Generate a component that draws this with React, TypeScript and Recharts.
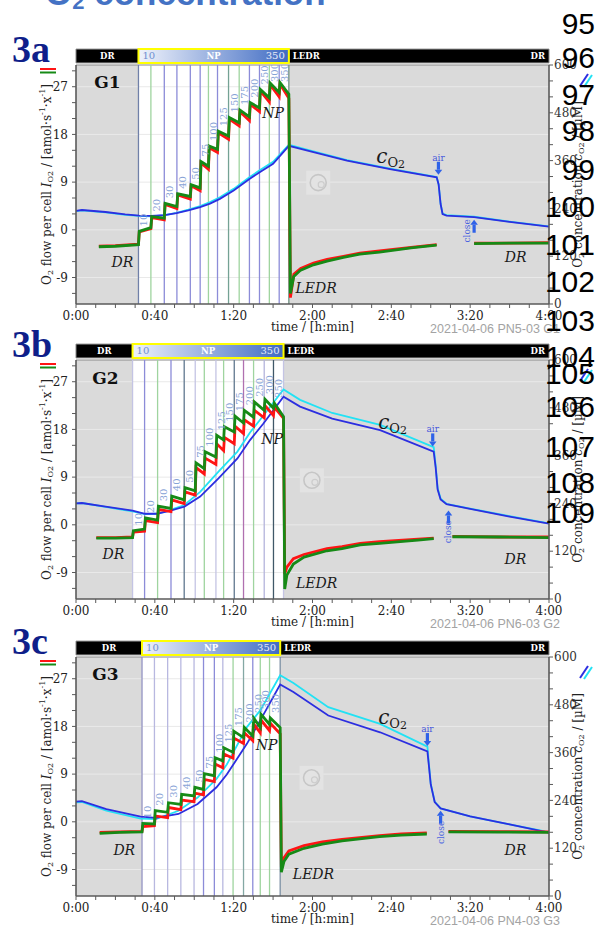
import React from 'react';
import { ComposedChart, Line, Scatter, XAxis, YAxis, ReferenceArea, ReferenceLine } from 'recharts';

// axes
const TIME_TICKS = [0, 10, 20, 30, 40, 50, 60, 70, 80, 90, 100, 110, 120, 130, 140, 150, 160, 170, 180, 190, 200, 210, 220, 230, 240];
const FLUX_TICKS = [-12, -9, -6, -3, 0, 3, 6, 9, 12, 15, 18, 21, 24, 27, 30];
const FLUX_GRID = [-9, 0, 9, 18, 27];
const CONC_TICKS = [0, 40, 80, 120, 160, 200, 240, 280, 320, 360, 400, 440, 480, 520, 560, 600];
const FLUX_MIN = -14;
const FLUX_MAX = 31.1;

const STEP_NAMES = ['10', '20', '30', '40', '50', '75', '100', '125', '150', '175', '200', '250', '300', '350'];
const STEP_NAMES_G3 = ['10', '20', '30', '40', '50', '75', '100', '125', '175', '200', '250', '300', '350'];

// ---------- G1 ----------
const PHASES_G1 = [0, 31.7, 108, 240];
const LINES_G1 = [31.7, 38.0, 44.8, 51.2, 58.0, 63.0, 67.2, 71.8, 77.4, 82.8, 88.0, 93.1, 98.1, 103.1, 108.0];
const LINE_COLORS_G1 = ['#7080a8', '#9fd49f', '#8c8cd8', '#8c8cd8', '#8c8cd8', '#8c8cd8', '#9fd49f', '#8c8cd8', '#74a294', '#9fd49f', '#8c8cd8', '#8c8cd8', '#9fd49f', '#8c8cd8', '#6f8f80'];
const FLUX_T_G1 = [11.6, 20, 31.7, 32.1, 38.0, 38.4, 44.8, 45.2, 51.2, 51.6, 58.0, 58.4, 63.0, 63.4, 67.2, 67.6, 71.8, 72.2, 77.4, 77.8, 82.8, 83.2, 88.0, 88.4, 93.1, 93.5, 98.1, 98.5, 103.1, 103.5, 108.0,
  108.8, 110.5, 114, 120.5, 127.4, 135.7, 144, 154, 170, 183, 183.5, 202, 220, 240];
const GREEN_G1 = [-3.2, -3.1, -2.8, -0.3, 0.4, 2.5, 2.2, 5.0, 4.4, 6.8, 6.3, 8.5, 7.9, 12.9, 12.0, 15.8, 15.2, 18.6, 17.7, 21.2, 20.2, 22.6, 21.3, 24.0, 23.0, 26.5, 24.9, 27.7, 25.9, 27.8, 25.6,
  -12.0, -8.8, -7.6, -6.6, -5.9, -5.2, -4.6, -4.2, -3.4, -2.9, null, -2.6, -2.5, -2.5];
const RED_G1 = [-3.1, -3.0, -2.7, -0.4, 0.2, 2.3, 1.9, 4.8, 4.0, 6.6, 5.8, 8.3, 7.4, 12.6, 11.4, 15.5, 14.6, 18.3, 17.1, 20.9, 19.6, 22.3, 20.6, 23.7, 22.3, 26.2, 24.1, 27.4, 25.1, 27.5, 24.8,
  -12.8, -8.4, -7.3, -6.3, -5.6, -5.0, -4.4, -4.0, -3.3, -2.8, null, -2.5, -2.5, -2.4];
const CONC_T_G1 = [0, 3, 15, 25, 32, 38, 45, 51, 57, 63, 68, 73, 80, 88, 93, 100, 108, 120, 137.5, 160, 183, 184, 185, 186, 188, 195, 202, 220, 240];
const BLUE_G1 = [234, 236, 231, 225, 222, 221, 223, 228, 235, 243, 252, 264, 285, 314, 330, 352, 397, 382, 360, 338, 318, 300, 251, 226, 222, 220, 218, 206, 194];
const CYAN_G1 = [233, 235, 230, 224, 221, 220, 223, 229, 237, 246, 256, 268, 289, 318, 335, 357, 400, 384, 361, 339, 319, 300, 252, 227, 223, 221, 219, 207, 195];
const NOTES_G1 = [
  { t: 15.9, v: 27.8, kind: 'panel', text: 'G1' },
  { t: 23.5, v: -6.1, kind: 'phase', text: 'DR' },
  { t: 100, v: 22.0, kind: 'phase', text: 'NP' },
  { t: 121.8, v: -10.9, kind: 'phase', text: 'LEDR' },
  { t: 223.1, v: -5.2, kind: 'phase', text: 'DR' },
  { t: 158.4, v: 13.3, kind: 'conc', text: 'c' },
  { t: 183.9, v: 13.6, kind: 'air', text: 'air' },
  { t: 198.3, v: -0.2, kind: 'closeText', text: 'close' },
  { t: 202, v: 1.9, kind: 'closeArrow', text: '' },
  { t: 122.9, v: 8.9, kind: 'logo', text: '' },
];

// ---------- G2 ----------
const PHASES_G2 = [0, 28.7, 105.3, 240];
const LINES_G2 = [28.7, 34.8, 41.4, 48.2, 54.9, 60.5, 65.1, 71.0, 74.9, 80.3, 85.0, 90.1, 95.5, 100.2, 105.3];
const LINE_COLORS_G2 = ['#c4c4e4', '#8c8cd8', '#9fd49f', '#8c8cd8', '#60788f', '#c4c4e4', '#9fd49f', '#c4c4e4', '#9fd49f', '#60788f', '#b070b0', '#9fd49f', '#b4b4dc', '#405868', '#c4c4e4'];
const FLUX_T_G2 = [10.3, 20, 28.7, 29.1, 34.8, 35.2, 41.4, 41.8, 48.2, 48.6, 54.9, 55.3, 60.5, 60.9, 65.1, 65.5, 71.0, 71.4, 74.9, 75.3, 80.3, 80.7, 85.0, 85.4, 90.1, 90.5, 95.5, 95.9, 100.2, 100.6, 105.3,
  105.9, 107, 110.3, 115.7, 127.3, 135, 144.2, 154, 173.5, 181.5, 182, 191, 215, 240];
const GREEN_G2 = [-2.5, -2.5, -2.4, -1.1, -0.8, 1.3, 0.9, 3.5, 3.1, 5.4, 4.7, 7.0, 6.4, 11.7, 10.6, 13.8, 12.8, 16.9, 16.0, 18.5, 17.5, 20.5, 19.2, 21.6, 20.3, 23.2, 21.6, 23.7, 22.0, 23.0, 20.4,
  -12.1, -9.5, -7.4, -6.1, -4.9, -4.5, -3.8, -3.5, -2.9, -2.6, null, -2.25, -2.3, -2.4];
const RED_G2 = [-2.4, -2.4, -2.3, -1.4, -1.2, 0.8, 0.4, 2.9, 2.5, 4.7, 4.0, 6.2, 5.6, 10.8, 9.6, 12.6, 11.4, 15.3, 14.0, 16.5, 15.3, 18.6, 17.2, 19.8, 18.6, 21.6, 20.2, 22.5, 20.6, 22.2, 20.1,
  -9.3, -8.0, -6.4, -5.6, -4.5, -4.1, -3.5, -3.2, -2.7, -2.5, null, -2.2, -2.3, -2.3];
const CONC_T_G2 = [0, 3, 15, 28.7, 35, 41, 48, 55, 63, 72.3, 81.9, 88.3, 95, 105.3, 113.7, 130, 154.3, 181.5, 182.5, 183.5, 185, 188, 200, 220, 240];
const BLUE_G2 = [240, 241, 232, 222, 214, 214, 222, 232, 257, 303, 353, 399, 440, 508, 483, 453, 424, 370, 330, 275, 250, 238, 226, 207, 189];
const CYAN_G2 = [240, 241, 231, 220, 213, 214, 224, 236, 269, 320, 370, 418, 460, 526, 500, 467, 437, 381, 335, 278, 252, 239, 227, 208, 190];
const NOTES_G2 = [
  { t: 14.9, v: 27.7, kind: 'panel', text: 'G2' },
  { t: 19.0, v: -5.6, kind: 'phase', text: 'DR' },
  { t: 99.5, v: 16.1, kind: 'phase', text: 'NP' },
  { t: 122.1, v: -11.0, kind: 'phase', text: 'LEDR' },
  { t: 223, v: -6.4, kind: 'phase', text: 'DR' },
  { t: 159.4, v: 18.8, kind: 'conc', text: 'c' },
  { t: 181.0, v: 18.0, kind: 'air', text: 'air' },
  { t: 189, v: -1.3, kind: 'closeText', text: 'close' },
  { t: 189, v: 2.7, kind: 'closeArrow', text: '' },
  { t: 119.7, v: 8.4, kind: 'logo', text: '' },
];

// ---------- G3 ----------
const PHASES_G3 = [0, 33.5, 103.6, 240];
const LINES_G3 = [33.5, 39.8, 46.5, 53.2, 59.9, 64.7, 70.2, 74.5, 79.7, 85.0, 89.7, 93.5, 98.2, 103.6];
const LINE_COLORS_G3 = ['#9494c4', '#b8b8e0', '#b8b8e0', '#b8b8e0', '#b8b8e0', '#8c8cd8', '#8c8cd8', '#b8b8e0', '#9fd49f', '#84a8a4', '#8c8cd8', '#9fd49f', '#9fd49f', '#7c90a4'];
const FLUX_T_G3 = [12, 22, 33.5, 33.9, 39.8, 40.2, 46.5, 46.9, 53.2, 53.6, 59.9, 60.3, 64.7, 65.1, 70.2, 70.6, 74.5, 74.9, 79.7, 80.1, 85.0, 85.4, 89.7, 90.1, 93.5, 93.9, 98.2, 98.6, 103.6,
  104.2, 105.5, 108, 115.7, 125, 135, 154, 165, 178, 178.5, 189, 215, 240];
const GREEN_G3 = [-2.2, -2.0, -1.9, -0.3, -0.4, 2.1, 1.8, 3.6, 3.3, 5.2, 4.9, 6.5, 6.1, 9.1, 8.7, 12.1, 11.5, 14.0, 13.1, 17.1, 15.9, 17.8, 16.2, 19.6, 17.8, 20.3, 18.4, 19.6, 17.8,
  -9.5, -7.5, -6.1, -5.0, -4.2, -3.6, -2.8, -2.5, -2.3, null, -1.9, -1.95, -2.0];
const RED_G3 = [-2.0, -1.9, -1.8, -0.9, -0.75, 1.1, 0.8, 2.7, 2.3, 4.1, 3.8, 5.4, 5.1, 8.0, 7.6, 10.9, 10.2, 12.8, 12.0, 15.8, 14.8, 16.8, 15.3, 18.5, 16.8, 19.2, 17.2, 18.6, 16.6,
  -8.6, -6.8, -5.5, -4.5, -3.8, -3.3, -2.6, -2.3, -2.1, null, -1.8, -1.85, -1.9];
const CONC_T_G3 = [0, 3, 15.4, 32.8, 40.5, 52, 61.7, 71.3, 76.5, 86.7, 93.5, 103.6, 110.3, 128, 154.3, 178.3, 179, 180, 182, 185, 200, 220, 240];
const BLUE_G3 = [237, 238, 218, 199, 196, 206, 231, 273, 305, 382, 441, 531, 512, 453, 411, 363, 330, 280, 236, 220, 200, 180, 159];
const CYAN_G3 = [235, 236, 214, 194, 193, 214, 247, 294, 330, 424, 466, 554, 535, 474, 432, 375, 335, 282, 237, 220, 200, 180, 160];
const NOTES_G3 = [
  { t: 14.9, v: 27.8, kind: 'panel', text: 'G3' },
  { t: 24.5, v: -5.3, kind: 'phase', text: 'DR' },
  { t: 96.7, v: 14.5, kind: 'phase', text: 'NP' },
  { t: 120.5, v: -9.8, kind: 'phase', text: 'LEDR' },
  { t: 223, v: -5.3, kind: 'phase', text: 'DR' },
  { t: 159.4, v: 19.2, kind: 'conc', text: 'c' },
  { t: 178.3, v: 17.5, kind: 'air', text: 'air' },
  { t: 185, v: -2.0, kind: 'closeText', text: 'close' },
  { t: 185, v: 2.1, kind: 'closeArrow', text: '' },
  { t: 119.5, v: 8.3, kind: 'logo', text: '' },
];

const LINE_NUMBERS = ['95', '96', '97', '98', '99', '100', '101', '102', '103', '104', '105', '106', '107', '108', '109'];
const LINE_NUMBER_Y = [22.5, 56.5, 94, 130, 168.5, 206, 243.5, 281, 320, 356, 373, 406, 446, 482, 512];

const PANELS = [
  { name: '3a', top: 30, phases: PHASES_G1, lines: LINES_G1, lineColors: LINE_COLORS_G1, steps: STEP_NAMES, fluxT: FLUX_T_G1, green: GREEN_G1, red: RED_G1, concT: CONC_T_G1, blue: BLUE_G1, cyan: CYAN_G1, notes: NOTES_G1, date: '2021-04-06 PN5-03 G1' },
  { name: '3b', top: 325, phases: PHASES_G2, lines: LINES_G2, lineColors: LINE_COLORS_G2, steps: STEP_NAMES, fluxT: FLUX_T_G2, green: GREEN_G2, red: RED_G2, concT: CONC_T_G2, blue: BLUE_G2, cyan: CYAN_G2, notes: NOTES_G2, date: '2021-04-06 PN6-03 G2' },
  { name: '3c', top: 622, phases: PHASES_G3, lines: LINES_G3, lineColors: LINE_COLORS_G3, steps: STEP_NAMES_G3, fluxT: FLUX_T_G3, green: GREEN_G3, red: RED_G3, concT: CONC_T_G3, blue: BLUE_G3, cyan: CYAN_G3, notes: NOTES_G3, date: '2021-04-06 PN4-03 G3' },
];

const SERIF = 'DejaVu Serif';
const PLOT_TOP = 35; // chart margin top, y of the plot's upper edge inside each chart
const zip = (t: number[], v: (number | null)[]) => t.map((x, i) => ({ t: x, v: v[i] }));
const fmtTime = (v: number) => (v % 40 === 0 ? `${Math.floor(v / 60)}:${String(v % 60).padStart(2, '0')}` : '');

const StepLabel = (p: any) => {
  // keep the rotated label inside the plot near the top
  const y = Math.max(p.cy - 5, PLOT_TOP + 17);
  return (
    <text transform={`translate(${p.cx + 9},${y}) rotate(-90)`} fontSize={10} fill="#86a2d6" fontFamily={SERIF}>
      {p.payload.label}
    </text>
  );
};

const arrow = (x: number, tipY: number, dir: number) => {
  // dir 1 = pointing down, -1 = pointing up
  const base = tipY - dir * 5;
  const tail = tipY - dir * 13;
  return (
    <g fill="#2f62e8">
      <rect x={x - 1.6} y={Math.min(base, tail)} width={3.2} height={8} />
      <polygon points={`${x - 3.8},${base} ${x + 3.8},${base} ${x},${tipY}`} />
    </g>
  );
};

const Note = (p: any) => {
  const { cx, cy, payload } = p;
  switch (payload.kind) {
    case 'panel':
      return <text x={cx} y={cy} textAnchor="middle" dominantBaseline="central" fontSize={17} fontWeight="bold" fill="#111" fontFamily={SERIF}>{payload.text}</text>;
    case 'phase':
      return <text x={cx} y={cy} textAnchor="middle" dominantBaseline="central" fontSize={14} fontStyle="italic" fill="#1a1a1a" fontFamily={SERIF}>{payload.text}</text>;
    case 'conc':
      return (
        <text x={cx - 12} y={cy + 4} fontSize={20} fontStyle="italic" fill="#1a1a1a" fontFamily={SERIF}>
          c<tspan fontSize={13} fontStyle="normal" dy={4}>O</tspan><tspan fontSize={11} fontStyle="normal" dy={1}>2</tspan>
        </text>
      );
    case 'air':
      return (
        <g>
          <text x={cx} y={cy} textAnchor="middle" dominantBaseline="central" fontSize={9} fill="#4656dc" fontFamily={SERIF}>air</text>
          {arrow(cx, cy + 17, 1)}
        </g>
      );
    case 'closeArrow':
      return arrow(cx, cy, -1);
    case 'closeText':
      return <text transform={`translate(${cx},${cy}) rotate(-90)`} textAnchor="middle" dominantBaseline="central" fontSize={9} fill="#4a64e0" fontFamily={SERIF}>close</text>;
    case 'logo':
      return (
        <g>
          <rect x={cx - 12} y={cy - 12} width={24} height={24} fill="#e3e3e3" />
          <circle cx={cx} cy={cy} r={8} fill="none" stroke="#c6c6c6" strokeWidth={1.6} />
          <circle cx={cx + 3} cy={cy + 2} r={3} fill="none" stroke="#cdcdcd" strokeWidth={1.2} />
        </g>
      );
    default:
      return <g />;
  }
};

const FluxAxisLabel = (p: any) => {
  const { viewBox } = p;
  const cy = viewBox.y + viewBox.height / 2;
  return (
    <text transform={`translate(${viewBox.x + 47},${cy}) rotate(-90)`} textAnchor="middle" dominantBaseline="central" fontSize={12} fill="#222" fontFamily={SERIF}>
      O<tspan fontSize={8} dy={3}>2</tspan><tspan dy={-3}> flow per cell </tspan><tspan fontStyle="italic">I</tspan><tspan fontSize={8} dy={3}>O2</tspan><tspan dy={-3}> / [amol·s</tspan><tspan fontSize={8} dy={-5}>-1</tspan><tspan dy={5}>·x</tspan><tspan fontSize={8} dy={-5}>-1</tspan><tspan dy={5}>]</tspan>
    </text>
  );
};

const ConcAxisLabel = (p: any) => {
  const { viewBox } = p;
  const cy = viewBox.y + viewBox.height / 2;
  return (
    <text transform={`translate(${viewBox.x + 29},${cy}) rotate(-90)`} textAnchor="middle" dominantBaseline="central" fontSize={12} fill="#222" fontFamily={SERIF}>
      O<tspan fontSize={8} dy={3}>2</tspan><tspan dy={-3}> concentration </tspan><tspan fontStyle="italic">c</tspan><tspan fontSize={8} dy={3}>O2</tspan><tspan dy={-3}> / [µM]</tspan>
    </text>
  );
};

const TimeLabel = (p: any) => {
  const { viewBox, date } = p;
  return (
    <g>
      <text x={viewBox.x + viewBox.width / 2} y={viewBox.y + 27} textAnchor="middle" fontSize={12} fill="#222" fontFamily={SERIF}>time / [h:min]</text>
      <text x={viewBox.x + viewBox.width + 11} y={viewBox.y + 29} textAnchor="end" fontSize={12.5} fill="#a3a3a3" fontFamily="Liberation Sans">{date}</text>
    </g>
  );
};

const BarText = (p: any) => {
  const { viewBox, left, center, right, leftColor, rightColor } = p;
  const y = viewBox.y + viewBox.height / 2;
  const common = { dominantBaseline: 'central', fontSize: 8.5, fontWeight: 'bold', fontFamily: SERIF } as any;
  return (
    <g>
      {left && <text x={viewBox.x + 4} y={y} fill={leftColor || '#fff'} {...common} fontWeight={leftColor ? 'normal' : 'bold'} fontSize={leftColor ? 10 : 8.5}>{left}</text>}
      {center && <text x={viewBox.x + viewBox.width / 2} y={y} textAnchor="middle" fill="#fff" {...common}>{center}</text>}
      {right && <text x={viewBox.x + viewBox.width - 4} y={y} textAnchor="end" fill={rightColor || '#fff'} {...common} fontWeight={rightColor ? 'normal' : 'bold'} fontSize={rightColor ? 10 : 8.5}>{right}</text>}
    </g>
  );
};

function Panel({ p, idx }: { p: any; idx: number }) {
  const green = zip(p.fluxT, p.green);
  const red = zip(p.fluxT, p.red);
  const blue = zip(p.concT, p.blue);
  const cyan = zip(p.concT, p.cyan);
  const labels = p.steps.map((name: string, i: number) => ({ t: p.lines[i], v: p.green[3 + 2 * i], label: name }));
  const gid = `npGrad${idx}`;
  const [t0, tNp, tLedr, tEnd] = p.phases;
  return (
    <div style={{ position: 'absolute', left: 0, top: p.top }}>
      <ComposedChart width={596} height={310} margin={{ top: PLOT_TOP, right: 0, bottom: 0, left: 0 }}>
        <defs>
          <linearGradient id={gid} x1="0" y1="0" x2="1" y2="0">
            <stop offset="0%" stopColor="#f0f3fb" />
            <stop offset="100%" stopColor="#3f6bc3" />
          </linearGradient>
        </defs>
        <XAxis type="number" dataKey="t" domain={[0, 240]} ticks={TIME_TICKS} interval={0} tickFormatter={fmtTime} height={36}
          allowDataOverflow tick={{ fontSize: 12, fill: '#222', fontFamily: SERIF }} tickSize={4} tickMargin={3}
          axisLine={{ stroke: '#5a5a5a', strokeWidth: 1.6 }} tickLine={{ stroke: '#5a5a5a' }}
          label={<TimeLabel date={p.date} />} />
        <YAxis yAxisId="left" type="number" domain={[FLUX_MIN, FLUX_MAX]} ticks={FLUX_TICKS} interval={0} allowDataOverflow width={76}
          tickFormatter={(v: number) => (v % 9 === 0 ? String(v) : '')} tick={{ fontSize: 12, fill: '#222', fontFamily: SERIF }}
          tickSize={4} tickMargin={4} axisLine={{ stroke: '#5a5a5a', strokeWidth: 1.6 }} tickLine={{ stroke: '#5a5a5a' }}
          label={<FluxAxisLabel />} />
        <YAxis yAxisId="right" orientation="right" type="number" domain={[0, 600]} ticks={CONC_TICKS} interval={0} allowDataOverflow width={47}
          tickFormatter={(v: number) => (v % 120 === 0 ? String(v) : '')} tick={{ fontSize: 12, fill: '#333', fontFamily: SERIF }}
          tickSize={4} tickMargin={1} axisLine={{ stroke: '#5a5a5a', strokeWidth: 1.6 }} tickLine={{ stroke: '#5a5a5a' }}
          label={<ConcAxisLabel />} />

        <ReferenceArea yAxisId="left" x1={t0} x2={tEnd} y1={FLUX_MIN} y2={FLUX_MAX} fill="#dadada" fillOpacity={1} stroke="none" ifOverflow="visible" />
        <ReferenceArea yAxisId="left" x1={tNp} x2={tLedr} y1={FLUX_MIN} y2={FLUX_MAX} fill="#ffffff" fillOpacity={1} stroke="none" ifOverflow="visible" />
        {FLUX_GRID.map((g) => (
          <ReferenceLine key={`g${g}`} yAxisId="left" y={g} stroke="#e9e9e9" strokeWidth={1} />
        ))}
        <ReferenceLine yAxisId="left" y={FLUX_MAX} stroke="#8a8a8a" strokeWidth={1.2} />
        {p.lines.map((t: number, i: number) => (
          <ReferenceLine key={`l${i}`} yAxisId="left" x={t} stroke={p.lineColors[i]} strokeWidth={1.3} />
        ))}

        {/* phase bar above the plot */}
        <ReferenceArea yAxisId="left" x1={t0} x2={tNp} y1={31.5} y2={34.1} fill="#000" fillOpacity={1} stroke="#888" ifOverflow="visible"
          label={<BarText center="DR" />} />
        <ReferenceArea yAxisId="left" x1={tLedr} x2={tEnd} y1={31.5} y2={34.1} fill="#000" fillOpacity={1} stroke="#888" ifOverflow="visible"
          label={<BarText left="LEDR" right="DR" />} />
        <ReferenceArea yAxisId="left" x1={tNp} x2={tLedr} y1={31.5} y2={34.1} fill={`url(#${gid})`} fillOpacity={1} stroke="#ffff00" strokeWidth={2} ifOverflow="visible"
          label={<BarText left="10" center="NP" right="350" leftColor="#6f8fd0" rightColor="#e6ecf8" />} />

        <Line yAxisId="right" data={cyan} dataKey="v" stroke="#22e2f4" strokeWidth={1.8} dot={false} isAnimationActive={false} />
        <Line yAxisId="right" data={blue} dataKey="v" stroke="#2c2ee0" strokeWidth={1.8} dot={false} isAnimationActive={false} />
        <Line yAxisId="left" data={red} dataKey="v" stroke="#ff1414" strokeWidth={2.8} dot={false} connectNulls={false} isAnimationActive={false} />
        <Line yAxisId="left" data={green} dataKey="v" stroke="#168a16" strokeWidth={2.8} dot={false} connectNulls={false} isAnimationActive={false} />
        <Scatter yAxisId="left" data={labels} dataKey="v" shape={StepLabel} isAnimationActive={false} />
        <Scatter yAxisId="left" data={p.notes} dataKey="v" shape={Note} isAnimationActive={false} />
      </ComposedChart>
    </div>
  );
}

export default function App() {
  return (
    <div style={{ position: 'absolute', left: 0, top: 0, width: 596, height: 929, overflow: 'hidden', background: '#fff', fontFamily: SERIF }}>
      {PANELS.map((p, i) => (
        <Panel key={p.name} p={p} idx={i} />
      ))}
      <svg width={596} height={929} style={{ position: 'absolute', left: 0, top: 0, pointerEvents: 'none' }}>
        <text x={45} y={5} fontSize={35} fontWeight="bold" fill="#4472c4" fontFamily="Liberation Sans">
          O<tspan fontSize={22} dy={4}>2</tspan><tspan dy={-4}> concentration</tspan>
        </text>
        {PANELS.map((p) => (
          <g key={`lab${p.name}`}>
            <text x={12} y={p.top + 32} fontSize={38} fontWeight="bold" fill="#0f1f8a" fontFamily="Liberation Serif">{p.name}</text>
            <line x1={40} x2={56} y1={p.top + 39} y2={p.top + 39} stroke="#ff1414" strokeWidth={2} />
            <line x1={40} x2={56} y1={p.top + 42.5} y2={p.top + 42.5} stroke="#168a16" strokeWidth={2} />
            <line x1={580} y1={p.top + 56} x2={588} y2={p.top + 44} stroke="#2c2ee0" strokeWidth={2} />
            <line x1={584} y1={p.top + 57} x2={592} y2={p.top + 45} stroke="#22e2f4" strokeWidth={2} />
          </g>
        ))}
        {LINE_NUMBERS.map((n, i) => (
          <text key={n} x={595} y={LINE_NUMBER_Y[i] + 11} textAnchor="end" fontSize={30} fill="#000" fontFamily="Liberation Sans">{n}</text>
        ))}
      </svg>
    </div>
  );
}
